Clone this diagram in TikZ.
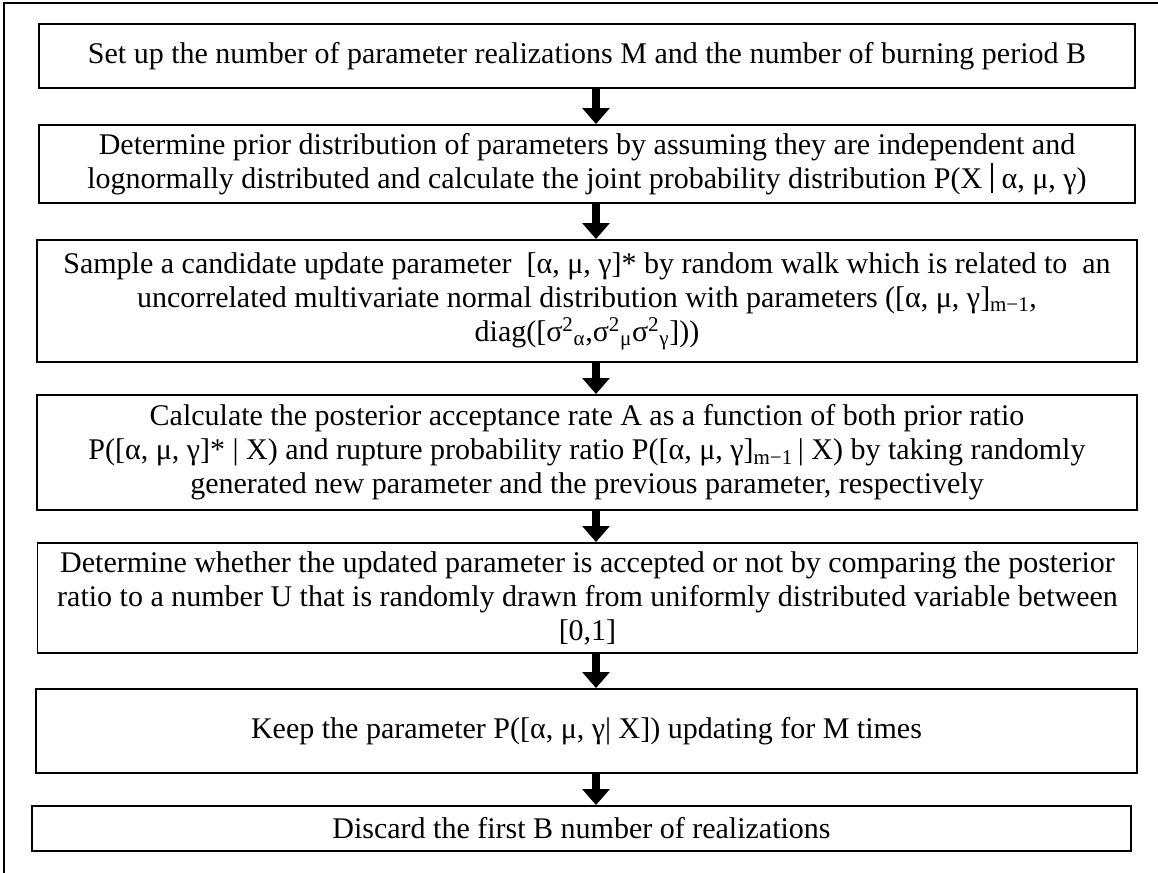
\documentclass[tikz,border=0pt]{standalone}
\usepackage{fontspec}
\setmainfont{Liberation Serif}
\usetikzlibrary{arrows.meta}
\newcommand\tallbar{\rule[-0.14em]{0.05em}{0.98em}}
\begin{document}
\begin{tikzpicture}[x=0.75pt,y=-0.75pt,
  box/.style={draw,line width=1.4pt,inner sep=0pt,align=center,
    font=\fontsize{22.5}{25.5}\selectfont},
  flow/.style={line width=5.5pt,-{Triangle[width=20pt,length=12pt]}}]
\useasboundingbox (0,0) rectangle (1158,873);
\draw[line width=1.1pt] (4,3) rectangle (1175,890);
\coordinate (ax) at (596,0);
\node[box,minimum width=822pt,minimum height=48pt] (b1) at (587,56)
  {Set up the number of parameter realizations M and the number of burning period B};
\node[box,minimum width=822pt,minimum height=58.5pt] (b2) at (587,164)
  {Determine prior distribution of parameters by assuming they are independent and\\
   lognormally distributed and calculate the joint probability distribution P(X\hspace{0.3em}\tallbar\hspace{0.3em}α, μ, γ)};
\node[box,minimum width=825pt,minimum height=91.5pt] (b3) at (587,301)
  {Sample a candidate update parameter\ \ [α, μ, γ]* by random walk which is related to\ \ an\\
   uncorrelated multivariate normal distribution with parameters ([α, μ, γ]\textsubscript{m−1},\\
   diag([σ\textsuperscript{2}\textsubscript{α},σ\textsuperscript{2}\textsubscript{μ}σ\textsuperscript{2}\textsubscript{γ}]))};
\node[box,minimum width=825pt,minimum height=86.25pt] (b4) at (587,452.5)
  {Calculate the posterior acceptance rate A as a function of both prior ratio\\
   P([α, μ, γ]* | X) and rupture probability ratio P([α, μ, γ]\textsubscript{m−1}\,| X) by taking randomly\\
   generated new parameter and the previous parameter, respectively};
\node[box,minimum width=825pt,minimum height=82.5pt] (b5) at (587.5,598)
  {Determine whether the updated parameter is accepted or not by comparing the posterior\\
   ratio to a number U that is randomly drawn from uniformly distributed variable between\\\relax
   {[0,1]}};
\node[box,minimum width=825.75pt,minimum height=63pt] (b6) at (586.5,731)
  {Keep the parameter P([α, μ, γ| X]) updating for M times};
\node[box,minimum width=824.25pt,minimum height=33.75pt] (b7) at (581.5,828.5)
  {Discard the first B number of realizations};
\draw[flow] (b1.south -| ax) -- (b2.north -| ax);
\draw[flow] (b2.south -| ax) -- (b3.north -| ax);
\draw[flow] (b3.south -| ax) -- (b4.north -| ax);
\draw[flow] (b4.south -| ax) -- (b5.north -| ax);
\draw[flow] (b5.south -| ax) -- (b6.north -| ax);
\draw[flow] (b6.south -| ax) -- (b7.north -| ax);
\end{tikzpicture}
\end{document}
